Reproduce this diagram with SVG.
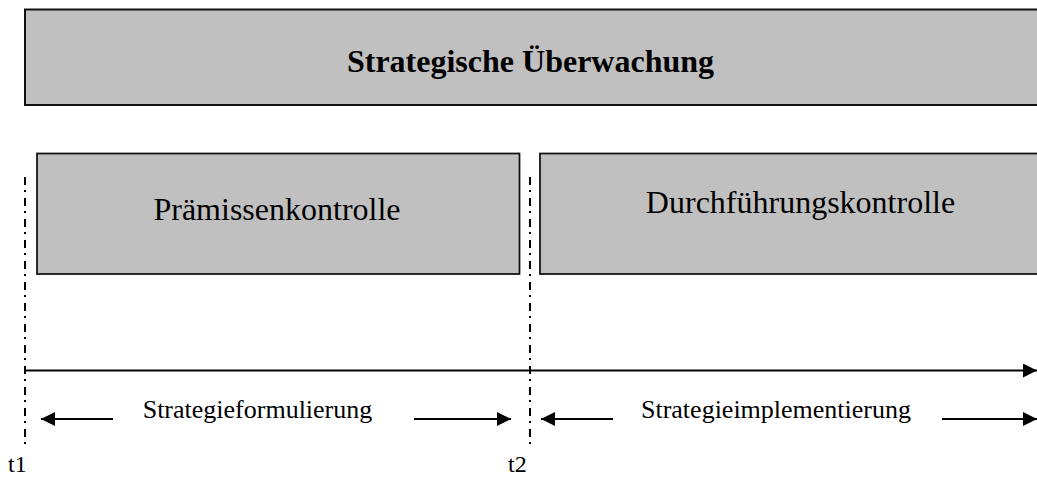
<svg xmlns="http://www.w3.org/2000/svg" width="1037" height="477" viewBox="0 0 1037 477">
  <style>
    .box { fill: #c0c0c0; stroke: #111; }
    .lbl { font-family: "Liberation Serif", "Times New Roman", serif; fill: #000; }
    .title { font-size: 32px; font-weight: bold; text-anchor: middle; }
    .big { font-size: 32px; text-anchor: middle; }
    .mid { font-size: 26px; text-anchor: middle; }
    .tick { font-size: 24px; }
    .mark { stroke: #000; stroke-width: 2; stroke-dasharray: 8 5 2 6; fill: none; }
    .arrow { stroke: #000; stroke-width: 2; fill: none; marker-end: url(#head); }
  </style>
  <defs>
    <marker id="head" markerUnits="userSpaceOnUse" markerWidth="14" markerHeight="14" refX="14" refY="7" orient="auto">
      <path d="M0,0 L14,7 L0,14 z" fill="#000"/>
    </marker>
  </defs>
  <rect width="1037" height="477" fill="#fff"/>

  <g id="ueberwachung">
    <rect class="box" x="25" y="9.5" width="1100" height="95.5" stroke-width="2"/>
    <text class="lbl title" x="530.5" y="72">Strategische Überwachung</text>
  </g>

  <g id="praemissenkontrolle">
    <rect class="box" x="37" y="153.5" width="482.5" height="120.5" stroke-width="1.75"/>
    <text class="lbl big" x="277" y="220">Prämissenkontrolle</text>
  </g>

  <g id="durchfuehrungskontrolle">
    <rect class="box" x="540" y="153.5" width="600" height="120.5" stroke-width="1.75"/>
    <text class="lbl big" x="800.5" y="213">Durchführungskontrolle</text>
  </g>

  <g id="t1">
    <line class="mark" x1="25" y1="177" x2="25" y2="445"/>
    <text class="lbl tick" x="8" y="472">t1</text>
  </g>

  <g id="t2">
    <line class="mark" x1="530" y1="177" x2="530" y2="445"/>
    <text class="lbl tick" x="508" y="472">t2</text>
  </g>

  <g id="connectors">
    <line class="arrow" x1="25" y1="370.5" x2="1037" y2="370.5"/>
    <line class="arrow" x1="113" y1="419" x2="41" y2="419"/>
    <line class="arrow" x1="414" y1="419" x2="511" y2="419"/>
    <line class="arrow" x1="613" y1="419" x2="541" y2="419"/>
    <line class="arrow" x1="942" y1="419" x2="1037" y2="419"/>
  </g>

  <g id="phasen">
    <text class="lbl mid" x="257.5" y="418">Strategieformulierung</text>
    <text class="lbl mid" x="776" y="418">Strategieimplementierung</text>
  </g>
</svg>
